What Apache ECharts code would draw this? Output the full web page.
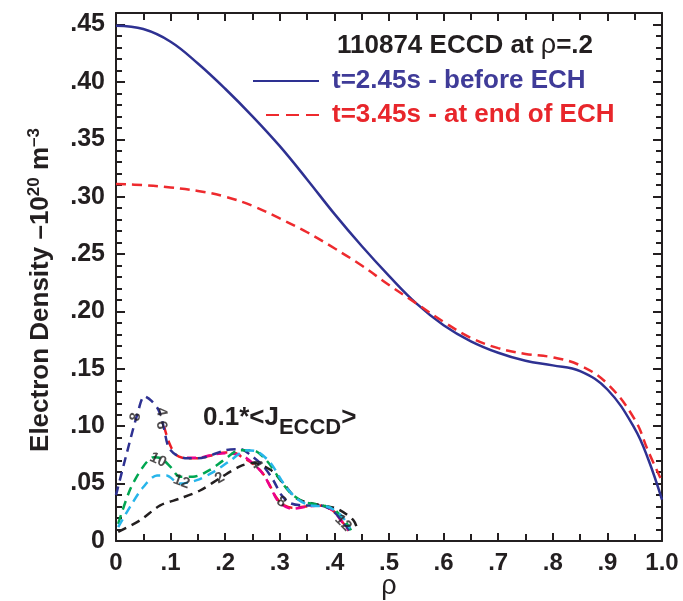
<!DOCTYPE html>
<html><head><meta charset="utf-8">
<script src="https://cdn.jsdelivr.net/npm/echarts@6/dist/echarts.min.js"></script>
<style>html,body{margin:0;padding:0;background:#fff}#c{width:683px;height:601px}</style>
</head><body><div id="c"></div>
<script>
// ---- data ----
const xTickLabels = ['0','.1','.2','.3','.4','.5','.6','.7','.8','.9','1.0'];
const yTickLabels = ['0','.05','.10','.15','.20','.25','.30','.35','.40','.45'];

const rho = [0,0.05,0.1,0.15,0.2,0.25,0.3,0.35,0.4,0.45,0.5,0.55,0.6,0.65,0.7,0.75,0.8,0.85,0.9,0.95,0.975,1.0];
const ne245 = [0.449,0.446,0.435,0.416,0.394,0.370,0.344,0.315,0.285,0.257,0.231,0.207,0.188,0.174,0.164,0.157,0.153,0.148,0.132,0.098,0.071,0.036];
const ne345 = [0.311,0.310,0.308,0.305,0.300,0.292,0.281,0.269,0.255,0.240,0.223,0.207,0.191,0.177,0.168,0.163,0.160,0.153,0.137,0.106,0.078,0.052];

const j2 = [[0.004,0.008],[0.044,0.018],[0.081,0.031],[0.117,0.037],[0.154,0.044],[0.191,0.055],[0.227,0.065],[0.251,0.068],[0.283,0.062],[0.307,0.05],[0.331,0.037],[0.367,0.032],[0.405,0.028],[0.435,0.018],[0.442,0.01]];
const j4 = [[0.088,0.1],[0.097,0.086],[0.11,0.075],[0.13,0.072],[0.15,0.072],[0.17,0.074],[0.2,0.077],[0.215,0.077],[0.231,0.073],[0.249,0.068],[0.267,0.06],[0.28,0.05],[0.292,0.039],[0.305,0.032],[0.322,0.029],[0.347,0.03],[0.371,0.031],[0.396,0.027],[0.414,0.017],[0.426,0.009]];
const j6 = [[0.13,0.0725],[0.15,0.0725],[0.18,0.0755],[0.2,0.0765],[0.23,0.0745],[0.25,0.068],[0.27,0.058],[0.285,0.045],[0.298,0.034],[0.322,0.028],[0.347,0.0297],[0.371,0.031],[0.396,0.027],[0.414,0.0165],[0.426,0.0095]];
const j8 = [[0,0.04],[0.02,0.077],[0.04,0.112],[0.052,0.126],[0.065,0.122],[0.078,0.114],[0.087,0.1],[0.096,0.082],[0.11,0.075],[0.13,0.072],[0.15,0.072],[0.17,0.074],[0.2,0.079],[0.228,0.08],[0.246,0.075],[0.27,0.065],[0.288,0.053],[0.303,0.04],[0.319,0.033],[0.344,0.031],[0.374,0.031],[0.398,0.026],[0.423,0.012],[0.432,0.007]];
const j10 = [[0.004,0.015],[0.026,0.045],[0.05,0.065],[0.069,0.073],[0.083,0.072],[0.099,0.065],[0.117,0.056],[0.141,0.056],[0.172,0.062],[0.196,0.07],[0.227,0.079],[0.251,0.079],[0.276,0.07],[0.301,0.053],[0.319,0.042],[0.344,0.034],[0.367,0.032],[0.398,0.028],[0.423,0.015],[0.432,0.008]];
const j12 = [[0.004,0.012],[0.026,0.03],[0.05,0.047],[0.075,0.057],[0.092,0.057],[0.117,0.05],[0.148,0.053],[0.178,0.06],[0.209,0.07],[0.24,0.079],[0.258,0.078],[0.283,0.068],[0.307,0.05],[0.331,0.037],[0.356,0.031],[0.386,0.03],[0.411,0.023],[0.429,0.011]];

const curveLabelText = ['8','4','6','10','12','2','4','8','12'];
const curveLabelPos = [[0.036,0.108],[0.083,0.1125],[0.083,0.101],[0.077,0.0705],[0.12,0.0516],[0.19,0.0548],[0.257,0.067],[0.303,0.034],[0.416,0.0157]];
const curveLabelAngle = [80,-80,-80,-25,-20,30,-60,-30,-45];

// ---- chart ----
const FONT = '"Liberation Sans", Arial, Helvetica, sans-serif';
const INK = '#231f20';
const chart = echarts.init(document.getElementById('c'), null, {renderer:'canvas'});
const xy = (xs, ys) => xs.map((x,i)=>[x, ys[i]]);

function xFmt(v){ const i = Math.round(v/0.1); return Math.abs(v - i*0.1) < 1e-6 ? (xTickLabels[i]||'') : ''; }
function yFmt(v){ const i = Math.round(v/0.05); return (Math.abs(v - i*0.05) < 1e-6 && i < yTickLabels.length) ? yTickLabels[i] : ''; }

const axLine = {show:true, onZero:false, lineStyle:{color:INK, width:2}};
const xTick = {show:true, inside:true, length:8, lineStyle:{color:INK, width:2}};
const xMinor = {show:true, splitNumber:2, length:7, lineStyle:{color:INK, width:2}};
const yTick = {show:true, inside:true, length:9, lineStyle:{color:INK, width:2}};
const yMinor = {show:true, splitNumber:5, length:6, lineStyle:{color:INK, width:2}};

function small(name, data, color){
  return {name, type:'line', data, symbol:'none', smooth:0.3, silent:true,
    itemStyle:{color}, lineStyle:{color, width:2.5, type:[9,6]}, z:3};
}

const legendText = {fontFamily:FONT, fontSize:26, fontWeight:'bold', lineHeight:28, padding:[0,0,0,8]};

const option = {
  animation:false,
  backgroundColor:'#fff',
  grid:{left:116, right:21, top:13, bottom:60, containLabel:false, outerBoundsMode:'none'},
  title:{
    text:'110874 ECCD at {r|ρ}=.2', left:332, top:27,
    textStyle:{fontFamily:FONT, fontSize:26, fontWeight:'bold', color:INK,
      rich:{r:{fontFamily:FONT, fontSize:27, fontWeight:'normal', color:INK}}}
  },
  legend:[
    {data:[{name:'t=2.45s - before ECH', textStyle:{color:'#3f3b98'}}], left:252, top:67, padding:0,
     itemWidth:66, itemHeight:14, selectedMode:false, itemStyle:{opacity:0}, textStyle:legendText},
    {data:[{name:'t=3.45s - at end of ECH', textStyle:{color:'#e8262b'}, lineStyle:{type:[13,7]}}], left:265, top:101, padding:0,
     itemWidth:53, itemHeight:14, selectedMode:false, itemStyle:{opacity:0}, textStyle:legendText}
  ],
  xAxis:[
    {type:'value', min:0, max:1, interval:0.1, position:'bottom',
     axisLine:axLine, axisTick:xTick, minorTick:xMinor, splitLine:{show:false},
     axisLabel:{formatter:xFmt, fontFamily:FONT, fontSize:24, fontWeight:'bold', color:INK, margin:10},
     name:'ρ', nameLocation:'middle', nameGap:32, nameMoveOverlap:false,
     nameTextStyle:{fontFamily:FONT, fontSize:27, color:INK}},
    {type:'value', min:0, max:1, interval:0.1, position:'top',
     axisLine:axLine, axisTick:xTick, minorTick:xMinor, splitLine:{show:false},
     axisLabel:{show:false}}
  ],
  yAxis:[
    {type:'value', min:0, max:0.46, interval:0.05, position:'left',
     axisLine:axLine, axisTick:yTick, minorTick:yMinor, splitLine:{show:false},
     axisLabel:{formatter:yFmt, fontFamily:FONT, fontSize:25, fontWeight:'bold', color:INK, margin:11, padding:[0,0,6,0]},
     name:'Electron Density –10{sup|20} m{sup|–3}', nameLocation:'middle', nameGap:60, nameRotate:90, nameMoveOverlap:false,
     nameTextStyle:{fontFamily:FONT, fontSize:26, fontWeight:'bold', color:INK, lineHeight:30, verticalAlign:'bottom',
       padding:[0,26,0,0],
       rich:{sup:{fontFamily:FONT, fontSize:17, fontWeight:'bold', color:INK, verticalAlign:'top', lineHeight:17}}}},
    {type:'value', min:0, max:0.46, interval:0.05, position:'right',
     axisLine:axLine, axisTick:yTick, minorTick:yMinor, splitLine:{show:false},
     axisLabel:{show:false}}
  ],
  graphic:[
    {type:'text', left:203, top:405, z:10, silent:true,
     style:{text:'{m|0.1*<J}{s|ECCD}{m|>}',
       rich:{
         m:{fontFamily:FONT, fontSize:26, fontWeight:'bold', fill:INK, lineHeight:30, verticalAlign:'top'},
         s:{fontFamily:FONT, fontSize:22, fontWeight:'bold', fill:INK, lineHeight:22, verticalAlign:'top', padding:[12,0,0,0]}
       }}}
  ],
  series:[
    small('j4', j4, '#ed1c24'),
    small('j6', j6, '#ec008c'),
    small('j8', j8, '#2e3192'),
    small('j2', j2, '#231f20'),
    small('j10', j10, '#00a651'),
    small('j12', j12, '#27b5ea'),
    {name:'t=2.45s - before ECH', type:'line', data:xy(rho, ne245), symbol:'none', smooth:0.4, silent:true,
     itemStyle:{color:'#2e3192'}, lineStyle:{color:'#2e3192', width:2.5}, z:4},
    {name:'t=3.45s - at end of ECH', type:'line', data:xy(rho, ne345), symbol:'none', smooth:0.4, silent:true,
     itemStyle:{color:'#ee2a2e'}, lineStyle:{color:'#ee2a2e', width:2.5, type:[10,6]}, z:4},
    {name:'labels', type:'scatter', symbolSize:0, silent:true, z:6,
     data:curveLabelPos.map((p,i)=>({name:curveLabelText[i], value:p, label:{rotate:curveLabelAngle[i]}})),
     label:{show:true, position:'inside', formatter:'{b}', fontFamily:FONT, fontSize:15, fontWeight:'bold', color:INK}}
  ]
};
chart.setOption(option);
</script></body></html>
